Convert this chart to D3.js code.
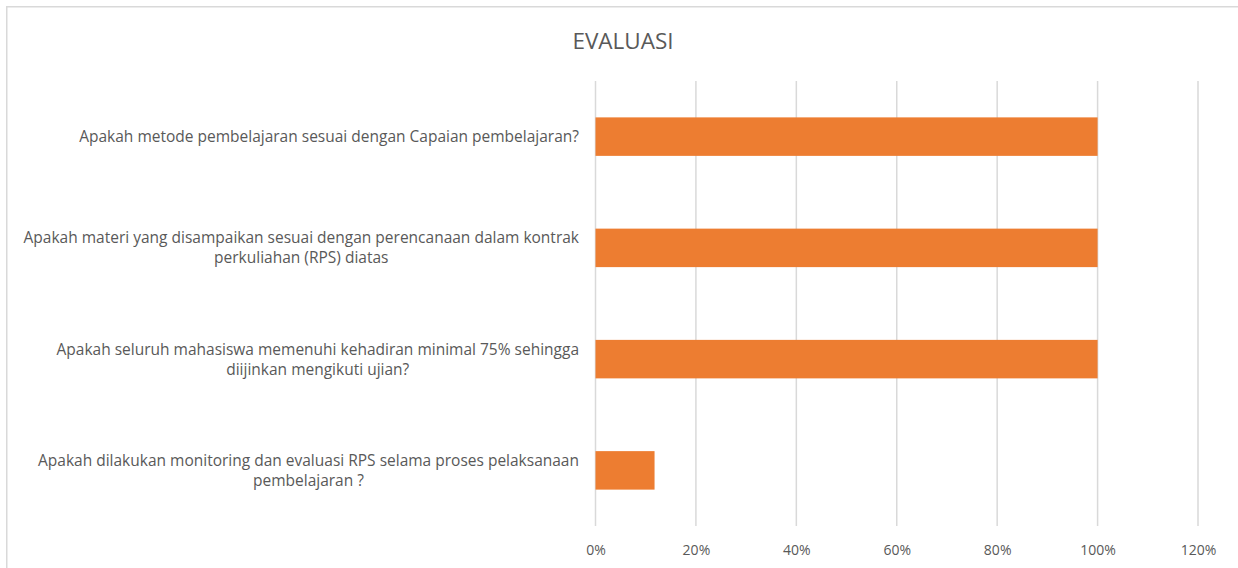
<!DOCTYPE html>
<html>
<head>
<meta charset="utf-8">
<script src="https://cdn.jsdelivr.net/npm/d3@7"></script>
<style>
  html, body { margin: 0; padding: 0; background: #fff; }
  svg { display: block; }
</style>
</head>
<body>
<svg id="chart" width="1238" height="568"></svg>
<script>
const categories = [
  ["Apakah metode pembelajaran sesuai dengan Capaian pembelajaran?"],
  ["Apakah materi yang disampaikan sesuai dengan perencanaan dalam kontrak", "perkuliahan (RPS) diatas"],
  ["Apakah seluruh mahasiswa memenuhi kehadiran minimal 75% sehingga", "diijinkan mengikuti ujian?"],
  ["Apakah dilakukan monitoring dan evaluasi RPS selama proses pelaksanaan", "pembelajaran ?"]
];
const values = [1.0, 1.0, 1.0, 0.1176];
const tickValues = [0, 0.2, 0.4, 0.6, 0.8, 1.0, 1.2];
const title = "EVALUASI";

const FONT = "'Open Sans', 'Liberation Sans', sans-serif";
const TEXT = "#595959";
const svg = d3.select("#chart");

// chart border
svg.append("rect")
  .attr("x", 6.75).attr("y", 6.75)
  .attr("width", 1260).attr("height", 600)
  .attr("fill", "none").attr("stroke", "#D9D9D9").attr("stroke-width", 1.5);

const x = d3.scaleLinear().domain([0, 1.2]).range([595.5, 1198]);
const y = d3.scaleBand().domain(d3.range(categories.length)).range([81, 526])
  .paddingInner(0.654).paddingOuter(0.327);

// title
svg.append("text")
  .attr("x", 623).attr("y", 49)
  .attr("text-anchor", "middle")
  .attr("font-family", FONT).attr("font-size", 22.5)
  .attr("fill", TEXT)
  .text(title);

// gridlines
svg.append("g").selectAll("line").data(tickValues).join("line")
  .attr("x1", d => x(d)).attr("x2", d => x(d))
  .attr("y1", 81).attr("y2", 526)
  .attr("stroke", "#D9D9D9").attr("stroke-width", 1.5);

// x axis labels
const xAxis = d3.axisBottom(x).tickValues(tickValues).tickFormat(d3.format(".0%")).tickSize(0).tickPadding(0);
const gx = svg.append("g").attr("transform", "translate(0,540)").call(xAxis);
gx.select(".domain").remove();
gx.selectAll("text")
  .attr("font-family", FONT).attr("font-size", 14)
  .attr("fill", TEXT).attr("dy", "0.71em").attr("y", 5);

// bars
svg.append("g").selectAll("rect").data(values).join("rect")
  .attr("x", x(0))
  .attr("y", (d, i) => y(i))
  .attr("width", d => x(d) - x(0))
  .attr("height", y.bandwidth())
  .attr("fill", "#ED7D31");

// category labels
const rightEdge = 579;
const lineH = 20;
const lab = svg.append("g");
categories.forEach((lines, i) => {
  const cy = y(i) + y.bandwidth() / 2;
  const t = lab.append("text")
    .attr("font-family", FONT).attr("font-size", 15.5)
    .attr("fill", TEXT);
  const n = lines.length;
  const spans = lines.map((s, k) => t.append("tspan")
    .attr("y", cy + (k - (n - 1) / 2) * lineH)
    .attr("dy", "0.35em")
    .attr("text-anchor", "middle")
    .text(s));
  const maxW = d3.max(spans, sp => sp.node().getComputedTextLength());
  spans.forEach(sp => sp.attr("x", rightEdge - maxW / 2));
});
</script>
</body>
</html>
